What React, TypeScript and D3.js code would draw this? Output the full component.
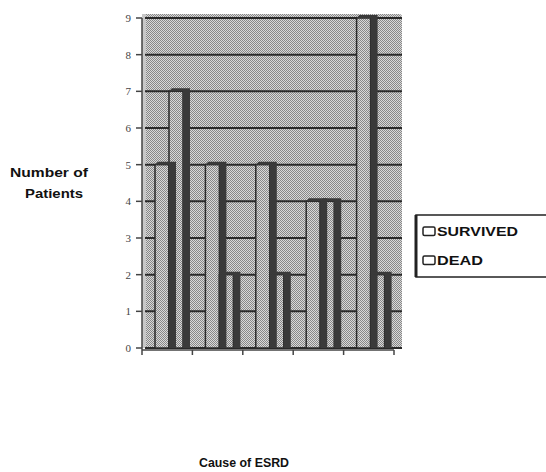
import React from "react";
import * as d3 from "d3";

const categories = ["Cause 1", "Cause 2", "Cause 3", "Cause 4", "Cause 5"];
const survived = [5, 5, 5, 4, 9];
const dead = [7, 2, 2, 4, 2];
const yTicks = [0, 1, 2, 3, 4, 5, 6, 7, 8, 9];
const seriesNames = ["SURVIVED", "DEAD"];

const W = 546;
const H = 472;

export default function App() {
  const x = d3.scaleBand<string>().domain(categories).range([142, 394]).padding(0);
  const y = d3.scaleLinear().domain([0, 9]).range([348, 18]);
  const faceW = 14;
  const depth = 7;
  const off = 13;
  const lift = 3;
  const dark = "#3a3a3a";
  const line = "#2a2a2a";

  const bar = (cx: number, v: number, key: string) => (
    <rect key={key} x={cx} y={y(v)} width={faceW} height={y(0) - y(v)} fill="url(#dots)" stroke={line} strokeWidth={1.5} />
  );
  const side = (cx: number, v: number, key: string) => {
    const x1 = cx + faceW;
    const pts = [
      [cx, y(v)],
      [cx + depth * 0.4, y(v) - lift],
      [x1 + depth, y(v) - lift],
      [x1 + depth, y(0)],
      [x1, y(0)],
      [x1, y(v)],
    ];
    return <polygon key={key} points={pts.map((p) => p.join(",")).join(" ")} fill={dark} />;
  };

  return (
    <svg width={W} height={H} style={{ position: "absolute", left: 0, top: 0, background: "#fff" }}>
      <defs>
        <pattern id="dots" width={2} height={2} patternUnits="userSpaceOnUse">
          <rect width={2} height={2} fill="#d9d9d9" />
          <rect width={1} height={1} fill="#888" />
          <rect x={1} y={1} width={1} height={1} fill="#888" />
        </pattern>
      </defs>

      {/* plot background */}
      <rect x={143} y={14} width={259} height={y(0) - 14} rx={3} fill="url(#dots)" />
      <rect x={142} y={14} width={4} height={y(0) - 14} fill="#c8c8c8" />

      {/* gridlines */}
      {yTicks.map((t) => (
        <line key={"g" + t} x1={145} x2={402} y1={y(t)} y2={y(t)} stroke={line} strokeWidth={2} />
      ))}

      {/* bars */}
      {categories.map((c, i) => {
        const bx = (x(c) as number) + off;
        return (
          <g key={c}>
            {bar(bx, survived[i], "s")}
            {bar(bx + faceW, dead[i], "d")}
            {side(bx, survived[i], "ss")}
            {side(bx + faceW, dead[i], "ds")}
          </g>
        );
      })}

      {/* y axis */}
      <line x1={142} x2={142} y1={y(9)} y2={y(0) + 2} stroke="#444" strokeWidth={1.5} />
      {yTicks.map((t) => (
        <g key={"t" + t}>
          <line x1={136} x2={142} y1={y(t)} y2={y(t)} stroke="#444" strokeWidth={1.5} />
          <text x={131} y={y(t)} dy="0.35em" textAnchor="end" fontFamily="Liberation Serif" fontSize={11} fill="#444">
            {t}
          </text>
        </g>
      ))}

      {/* x axis */}
      <line x1={142} x2={394} y1={y(0) + 2} y2={y(0) + 2} stroke="#444" strokeWidth={1.5} />
      {[...categories.map((c) => x(c) as number), 394].map((xv, i) => (
        <line key={"xt" + i} x1={xv} x2={xv} y1={y(0) + 2} y2={y(0) + 7} stroke="#444" strokeWidth={1.5} />
      ))}

      {/* axis titles */}
      <text x={10} y={177} fontFamily="Liberation Sans" fontWeight="bold" fontSize={12.5} fill="#111" textLength={78} lengthAdjust="spacingAndGlyphs">
        Number of
      </text>
      <text x={25} y={198} fontFamily="Liberation Sans" fontWeight="bold" fontSize={12.5} fill="#111" textLength={58} lengthAdjust="spacingAndGlyphs">
        Patients
      </text>
      <text x={199} y={467} fontFamily="Liberation Sans" fontWeight="bold" fontSize={12.5} fill="#111" textLength={90} lengthAdjust="spacingAndGlyphs">
        Cause of ESRD
      </text>

      {/* legend */}
      <rect x={416} y={215} width={150} height={62} fill="#fff" stroke="#222" strokeWidth={1.5} />
      <line x1={416} x2={416} y1={215} y2={277} stroke="#222" strokeWidth={3} />
      {seriesNames.map((n, i) => (
        <g key={n}>
          <rect x={423} y={227 + i * 29} width={12} height={8.5} rx={1.5} fill="#fff" stroke="#222" strokeWidth={1.5} />
          <text x={437} y={236 + i * 29} fontFamily="Liberation Sans" fontWeight="bold" fontSize={13} fill="#111" textLength={i === 0 ? 81 : 46} lengthAdjust="spacingAndGlyphs">
            {n}
          </text>
        </g>
      ))}
    </svg>
  );
}
